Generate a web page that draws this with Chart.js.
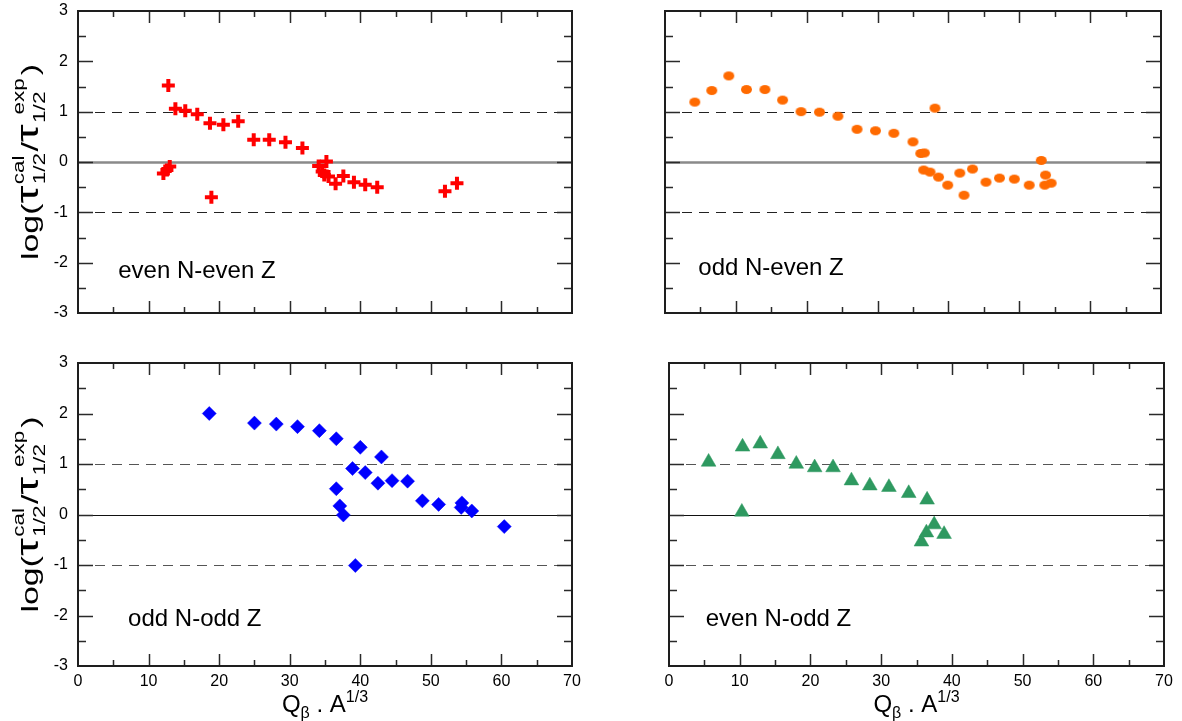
<!DOCTYPE html>
<html>
<head>
<meta charset="utf-8">
<script src="https://cdn.jsdelivr.net/npm/chart.js@4/dist/chart.umd.min.js"></script>
<style>
  html, body { margin: 0; padding: 0; background: #ffffff; }
  #wrap { position: relative; width: 1182px; height: 721px; overflow: hidden; }
  #wrap canvas { position: absolute; left: 0; top: 0; }
</style>
</head>
<body>
<div id="wrap">
  <canvas id="pEE" width="1182" height="721"></canvas>
  <canvas id="pOE" width="1182" height="721"></canvas>
  <canvas id="pOO" width="1182" height="721"></canvas>
  <canvas id="pEO" width="1182" height="721"></canvas>
</div>
<script>
// Axis ranges and tick values shared by all four panels
const xRange = [0, 70];
const yRange = [-3, 3];
const xTickStep = 10;
const yTickStep = 1;
const xMinorStep = 5;
const yMinorStep = 0.5;
const refLevels = [-1, 0, 1];

// even N - even Z
const eeX = [12.8, 13.8, 15.2, 16.9, 18.7, 20.6, 22.7, 24.9, 27.1, 29.4, 31.8,
             34.1, 35.2, 34.6, 34.9, 35.5, 36.5, 37.6, 39.1, 40.7, 42.4,
             12.1, 12.6, 13.0, 18.9, 52.0, 53.7];
const eeY = [1.52, 1.06, 1.02, 0.95, 0.77, 0.74, 0.81, 0.44, 0.44, 0.39, 0.28,
             -0.08, 0.01, -0.19, -0.26, -0.29, -0.43, -0.28, -0.40, -0.45, -0.50,
             -0.23, -0.16, -0.09, -0.70, -0.58, -0.42];

// odd N - even Z
const oeX = [4.2, 6.6, 9.0, 11.5, 14.1, 16.6, 19.2, 21.8, 24.4, 27.1, 29.7, 32.3,
             35.0, 36.1, 36.6, 38.1, 36.5, 37.4, 38.6, 39.9, 41.6, 42.2, 43.4,
             45.3, 47.2, 49.3, 51.4, 53.1, 53.7, 53.6, 54.5];
const oeY = [1.19, 1.42, 1.71, 1.44, 1.44, 1.23, 1.00, 0.99, 0.91, 0.65, 0.62, 0.57,
             0.40, 0.17, 0.18, 1.07, -0.16, -0.20, -0.30, -0.46, -0.22, -0.66, -0.14,
             -0.40, -0.32, -0.34, -0.46, 0.03, -0.26, -0.46, -0.42];

// odd N - odd Z
const ooX = [18.6, 25.0, 28.1, 31.1, 34.2, 36.6, 40.0, 43.0, 38.9, 40.7, 42.5, 44.5,
             46.7, 48.8, 51.1, 54.4, 54.3, 55.8, 60.4, 36.6, 37.1, 37.6, 39.3];
const ooY = [2.00, 1.81, 1.79, 1.74, 1.66, 1.50, 1.33, 1.14, 0.91, 0.83, 0.62, 0.67,
             0.66, 0.27, 0.20, 0.23, 0.14, 0.07, -0.24, 0.51, 0.17, -0.01, -1.01];

// even N - odd Z
const eoX = [5.6, 10.4, 12.9, 15.4, 18.0, 20.6, 23.2, 25.8, 28.4, 31.1, 33.9, 36.5,
             10.3, 37.5, 36.4, 38.9, 35.7];
const eoY = [1.04, 1.34, 1.40, 1.19, 1.00, 0.93, 0.93, 0.67, 0.57, 0.54, 0.42, 0.29,
             0.05, -0.20, -0.36, -0.39, -0.54];

const FONT = "'Liberation Sans', Arial, Helvetica, sans-serif";
const W = 1182, H = 721;
const Y_AXIS_W = 50;   // room kept for the y tick labels
const X_AXIS_H = 40;   // room kept for the x tick labels

function toPoints(xs, ys) { return xs.map((x, i) => ({ x, y: ys[i] })); }

// filled ellipse used as the marker of the odd N - even Z series
function ellipseMarker(w, h, color) {
  const c = document.createElement('canvas');
  c.width = w + 2; c.height = h + 2;
  const g = c.getContext('2d');
  g.fillStyle = color;
  g.beginPath();
  g.ellipse(c.width / 2, c.height / 2, w / 2, h / 2, 0, 0, Math.PI * 2);
  g.fill();
  return c;
}

// text made of pieces with sub/superscripts; a group stacks a sub and a sup
function richWidth(ctx, parts) {
  let w = 0;
  for (const p of parts) {
    if (p.group) {
      let m = 0;
      for (const q of p.group) { ctx.font = q.size + 'px ' + FONT; m = Math.max(m, ctx.measureText(q.t).width + (q.dx || 0)); }
      w += m + (p.gap || 0);
    } else {
      ctx.font = p.size + 'px ' + FONT; w += ctx.measureText(p.t).width + (p.gap || 0);
    }
  }
  return w;
}
function drawRich(ctx, parts, x, y) {
  let cx = x;
  ctx.textBaseline = 'alphabetic';
  ctx.textAlign = 'left';
  for (const p of parts) {
    if (p.group) {
      let m = 0;
      for (const q of p.group) {
        ctx.font = q.size + 'px ' + FONT;
        ctx.fillText(q.t, cx + (q.dx || 0), y + q.dy);
        m = Math.max(m, ctx.measureText(q.t).width + (q.dx || 0));
      }
      cx += m + (p.gap || 0);
    } else {
      ctx.font = p.size + 'px ' + FONT;
      ctx.fillText(p.t, cx, y + (p.dy || 0));
      cx += ctx.measureText(p.t).width + (p.gap || 0);
    }
  }
}

const yTitleParts = [
  { t: 'log(', size: 24 },
  { t: '\u03C4', size: 32, gap: 1 },
  { group: [{ t: '1/2', size: 16, dy: 7 }, { t: 'cal', size: 16, dy: -14 }], gap: 1 },
  { t: '/', size: 24 },
  { t: '\u03C4', size: 32, gap: 1 },
  { group: [{ t: '1/2', size: 16, dy: 7 }, { t: 'exp', size: 16, dy: -14, dx: 6 }], gap: 2 },
  { t: ')', size: 24 }
];
const yTitleLength = 196;
const xTitleParts = [
  { t: 'Q', size: 24 },
  { t: '\u03B2', size: 16, dy: 6 },
  { t: ' . A', size: 24 },
  { t: '1/3', size: 16, dy: -10 }
];

// frame, inward ticks, reference lines and panel texts
const panelDecor = {
  id: 'panelDecor',
  beforeDatasetsDraw(chart, args, o) {
    const { ctx, chartArea: a, scales: { y } } = chart;
    ctx.save();
    for (const v of refLevels) {
      const py = Math.round(y.getPixelForValue(v)) + 0.5;
      ctx.beginPath();
      if (v === 0) {
        ctx.setLineDash([]);
        ctx.strokeStyle = o.zeroColor; ctx.lineWidth = o.zeroWidth;
      } else {
        ctx.setLineDash([10, 7]);
        ctx.strokeStyle = o.dashColor; ctx.lineWidth = 1.2;
      }
      ctx.moveTo(a.left, py); ctx.lineTo(a.right, py); ctx.stroke();
    }
    ctx.restore();
  },
  afterDraw(chart, args, o) {
    const { ctx, chartArea: a, scales: { x, y } } = chart;
    ctx.save();
    ctx.strokeStyle = '#2a2a2a';
    ctx.lineWidth = 1.5;
    ctx.setLineDash([]);
    // x ticks on top and bottom edges
    for (let v = xRange[0] + xMinorStep; v < xRange[1]; v += xMinorStep) {
      const px = Math.round(x.getPixelForValue(v)) + 0.5;
      const len = (v % xTickStep === 0) ? 12 : 6;
      ctx.beginPath();
      ctx.moveTo(px, a.bottom); ctx.lineTo(px, a.bottom - len);
      ctx.moveTo(px, a.top); ctx.lineTo(px, a.top + len);
      ctx.stroke();
    }
    // y ticks on left and right edges
    for (let v = yRange[0] + yMinorStep; v < yRange[1]; v += yMinorStep) {
      const py = Math.round(y.getPixelForValue(v)) + 0.5;
      const len = (Math.abs(v % yTickStep) < 1e-9) ? 15 : 8;
      ctx.beginPath();
      ctx.moveTo(a.left, py); ctx.lineTo(a.left + len, py);
      ctx.moveTo(a.right, py); ctx.lineTo(a.right - len, py);
      ctx.stroke();
    }
    // frame
    ctx.lineWidth = 2;
    ctx.strokeStyle = '#1e1e1e';
    ctx.strokeRect(a.left, a.top, a.right - a.left, a.bottom - a.top);

    ctx.fillStyle = '#000';
    // panel name
    ctx.font = o.labelSize + 'px ' + FONT;
    ctx.textAlign = 'left';
    ctx.textBaseline = 'alphabetic';
    ctx.fillText(o.label, x.getPixelForValue(o.labelAt[0]), y.getPixelForValue(o.labelAt[1]));

    // y axis title, stretched along its length
    if (o.yTitle) {
      const w = richWidth(ctx, yTitleParts);
      const sx = yTitleLength / w;
      ctx.save();
      ctx.translate(o.yTitleX, (a.top + a.bottom) / 2);
      ctx.rotate(-Math.PI / 2);
      ctx.scale(sx, 1);
      drawRich(ctx, yTitleParts, -w / 2, 8);
      ctx.restore();
    }
    // x axis title
    if (o.xTitle) {
      const w = richWidth(ctx, xTitleParts);
      drawRich(ctx, xTitleParts, (a.left + a.right) / 2 - w / 2, o.xTitleY);
    }
    ctx.restore();
  }
};

function makePanel(id, area, series, deco, showX, showY) {
  const [L, T, R, B] = area;
  const tickFont = { family: FONT, size: 16 };
  return new Chart(document.getElementById(id), {
    type: 'scatter',
    data: { datasets: [series] },
    options: {
      responsive: false,
      animation: false,
      devicePixelRatio: 1,
      layout: {
        autoPadding: false,
        padding: { left: L - Y_AXIS_W, top: T, right: W - R, bottom: H - B - X_AXIS_H }
      },
      plugins: { legend: { display: false }, tooltip: { enabled: false }, panelDecor: deco },
      scales: {
        x: {
          type: 'linear', min: xRange[0], max: xRange[1], position: 'bottom',
          afterFit(s) { s.height = X_AXIS_H; s.paddingLeft = 0; s.paddingRight = 0; s.paddingTop = 0; s.paddingBottom = 0; },
          grid: { display: false, drawTicks: false },
          border: { display: false },
          ticks: { display: showX, stepSize: xTickStep, padding: 6, color: '#000', font: tickFont,
                   maxRotation: 0, autoSkip: false, callback: v => String(v) }
        },
        y: {
          type: 'linear', min: yRange[0], max: yRange[1], position: 'left',
          afterFit(s) { s.width = Y_AXIS_W; s.paddingLeft = 0; s.paddingRight = 0; s.paddingTop = 0; s.paddingBottom = 0; },
          grid: { display: false, drawTicks: false },
          border: { display: false },
          ticks: { display: showY, stepSize: yTickStep, padding: 10, color: '#000', font: tickFont,
                   autoSkip: false, callback: v => String(v) }
        }
      }
    },
    plugins: [panelDecor]
  });
}

makePanel('pEE', [78, 11, 572, 313], {
  data: toPoints(eeX, eeY), pointStyle: 'cross', pointRadius: 6.5, pointBorderWidth: 4,
  borderColor: '#ff0000', backgroundColor: '#ff0000', clip: false
}, { label: 'even N-even Z', labelAt: [5.7, -2.3], labelSize: 24, zeroColor: '#8a8a8a', zeroWidth: 2.5,
     dashColor: '#222', yTitle: true, yTitleX: 30 }, false, true);

makePanel('pOE', [665, 11, 1161, 313], {
  data: toPoints(oeX, oeY), pointStyle: ellipseMarker(11, 9, '#ff6a00'), pointRadius: 5.5,
  borderColor: '#ff6a00', backgroundColor: '#ff6a00', clip: false
}, { label: 'odd N-even Z', labelAt: [4.7, -2.25], labelSize: 24, zeroColor: '#8a8a8a', zeroWidth: 2.5,
     dashColor: '#222' }, false, false);

makePanel('pOO', [78, 363, 572, 666], {
  data: toPoints(ooX, ooY), pointStyle: 'rectRot', pointRadius: 7, pointBorderWidth: 0.5,
  borderColor: '#0000ff', backgroundColor: '#0000ff', clip: false
}, { label: 'odd N-odd Z', labelAt: [7.1, -2.2], labelSize: 24, zeroColor: '#111', zeroWidth: 1.2,
     dashColor: '#555', yTitle: true, yTitleX: 30, xTitle: true, xTitleY: 712 }, true, true);

makePanel('pEO', [669, 363, 1164, 666], {
  data: toPoints(eoX, eoY), pointStyle: 'triangle', pointRadius: 8.5, pointBorderWidth: 0.5,
  borderColor: '#2e9960', backgroundColor: '#2e9960', clip: false
}, { label: 'even N-odd Z', labelAt: [5.2, -2.2], labelSize: 24, zeroColor: '#111', zeroWidth: 1.2,
     dashColor: '#555', xTitle: true, xTitleY: 712 }, true, false);
</script>
</body>
</html>
